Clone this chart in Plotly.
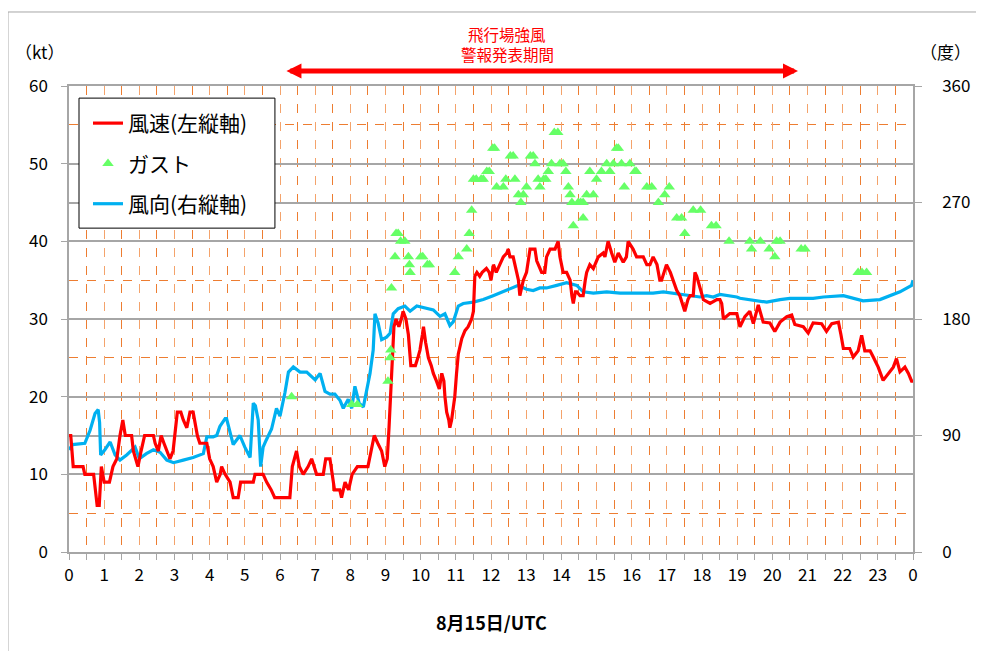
import plotly.graph_objects as go

# ---- data (hours UTC on 15 Aug) ----
spd_hours = [0.00, 0.05, 0.12, 0.40, 0.45, 0.70, 0.75, 0.80, 0.86, 0.92, 1.00, 1.15, 1.25, 1.36, 1.45, 1.53, 1.60, 1.78,
             1.83, 1.96, 2.05, 2.15, 2.40, 2.45, 2.54, 2.62, 2.70, 2.78, 2.87, 2.96, 3.02, 3.08, 3.18, 3.25, 3.35, 3.44,
             3.53, 3.60, 3.65, 3.72, 3.92, 4.00, 4.10, 4.20, 4.30, 4.34, 4.44, 4.58, 4.67, 4.81, 4.88, 5.24, 5.29, 5.52,
             5.62, 5.75, 5.85, 6.28, 6.35, 6.47, 6.55, 6.66, 6.80, 6.90, 6.97, 7.04, 7.23, 7.30, 7.42, 7.48, 7.55, 7.70,
             7.75, 7.85, 7.95, 8.05, 8.20, 8.50, 8.60, 8.68, 8.78, 8.89, 8.98, 9.05, 9.10, 9.17, 9.24, 9.30, 9.38, 9.45,
             9.50, 9.58, 9.65, 9.72, 9.85, 9.92, 9.98, 10.05, 10.08, 10.14, 10.22, 10.30, 10.36, 10.45, 10.53, 10.60,
             10.66, 10.69, 10.74, 10.80, 10.83, 10.88, 10.97, 11.02, 11.07, 11.17, 11.26, 11.35, 11.45, 11.50, 11.54,
             11.60, 11.68, 11.75, 11.87, 11.95, 12.00, 12.07, 12.15, 12.25, 12.35, 12.45, 12.49, 12.54, 12.63, 12.73,
             12.78, 12.82, 12.87, 12.92, 13.01, 13.06, 13.11, 13.25, 13.30, 13.44, 13.53, 13.58, 13.68, 13.82, 13.91,
             13.96, 14.05, 14.15, 14.25, 14.30, 14.34, 14.40, 14.44, 14.53, 14.62, 14.68, 14.72, 14.81, 14.91, 15.05,
             15.19, 15.24, 15.33, 15.43, 15.52, 15.62, 15.76, 15.85, 15.90, 16.04, 16.14, 16.33, 16.43, 16.52, 16.61,
             16.72, 16.80, 16.85, 16.99, 17.10, 17.18, 17.28, 17.37, 17.45, 17.51, 17.60, 17.66, 17.75, 17.80, 17.85,
             17.94, 18.04, 18.23, 18.42, 18.51, 18.56, 18.61, 18.79, 18.99, 19.08, 19.22, 19.36, 19.46, 19.60, 19.74,
             19.93, 20.07, 20.22, 20.41, 20.55, 20.64, 20.88, 21.02, 21.16, 21.40, 21.54, 21.69, 21.88, 21.95, 22.02,
             22.20, 22.30, 22.44, 22.54, 22.63, 22.78, 22.87, 23.01, 23.15, 23.30, 23.44, 23.53, 23.63, 23.77, 23.87,
             23.96, 24.00]
spd_kt = [15, 15, 11, 11, 10, 10, 8, 6, 6, 11, 9, 9, 11, 12, 15, 17, 15, 15,
          13, 11, 13, 15, 15, 14, 13, 15, 14, 13, 12, 13, 16, 18, 18, 17, 16, 18,
          18, 16, 15, 14, 14, 12, 11, 9, 10, 11, 10, 9, 7, 7, 9, 9, 10, 10,
          9, 8, 7, 7, 11, 13, 11, 10, 11, 12, 11, 10, 10, 12, 12, 10, 8, 8,
          7, 9, 8, 10, 11, 11, 13, 15, 14, 13, 11, 12, 16, 22, 29, 30, 29, 30,
          31, 30, 28, 24, 24, 25, 26, 28, 29, 27, 25, 24, 23, 22, 21, 23,
          22, 20, 18, 17, 16, 17, 20, 23, 25.5, 27.5, 28.5, 29, 30, 31, 35.5,
          36, 35.5, 36, 36.5, 36, 35, 37, 36, 37, 38, 38.5, 39, 38, 38, 36,
          35, 33, 34, 35, 36, 37.5, 39, 39, 37.5, 36, 36, 38, 39, 39, 40,
          38, 36, 36, 35, 33, 32, 33.5, 33.5, 33, 33, 35, 36, 37, 36.5, 38,
          38.5, 38, 40, 38.5, 37.3, 38.5, 37.3, 38, 40, 39, 38, 38, 37, 37, 38,
          37, 35, 35, 37, 36, 35, 33.7, 33, 32, 31, 32.5, 33, 33, 36, 35.5,
          34, 32.5, 32, 32.5, 32.5, 32, 30, 30.7, 30.7, 29, 30.3, 31, 29.4, 31.8, 29.6,
          29.5, 28.4, 29.6, 30.3, 30.5, 29.3, 29, 28.2, 29.5, 29.4, 28.4, 29.4, 29.6, 28, 26.2,
          26.2, 25.1, 25.9, 27.9, 25.9, 25.9, 25.1, 23.8, 22.1, 23, 23.8, 24.9, 23.2, 23.8, 23,
          22, 22]

dir_hours = [0.00, 0.10, 0.45, 0.60, 0.74, 0.83, 0.87, 0.90, 1.02, 1.17, 1.31, 1.45, 1.64, 1.88, 2.00, 2.20, 2.40,
             2.59, 2.78, 2.97, 3.25, 3.53, 3.82, 3.92, 4.10, 4.20, 4.29, 4.44, 4.48, 4.58, 4.67, 4.86, 5.00, 5.15,
             5.24, 5.30, 5.38, 5.45, 5.52, 5.60, 5.76, 5.90, 6.00, 6.14, 6.24, 6.38, 6.57, 6.76, 7.00, 7.14, 7.28,
             7.42, 7.56, 7.71, 7.80, 7.94, 8.04, 8.13, 8.25, 8.37, 8.46, 8.56, 8.65, 8.70, 8.79, 8.89, 9.03, 9.13,
             9.22, 9.36, 9.55, 9.70, 9.89, 10.17, 10.36, 10.55, 10.69, 10.83, 10.93, 11.07, 11.21, 11.50, 11.78,
             12.06, 12.35, 12.63, 12.78, 13.01, 13.20, 13.39, 13.58, 13.87, 14.15, 14.44, 14.62, 14.91, 15.29,
             15.67, 16.04, 16.61, 16.90, 17.18, 17.37, 17.94, 18.13, 18.32, 18.51, 18.99, 19.08, 19.74, 19.84,
             20.22, 20.50, 21.16, 21.45, 22.02, 22.58, 23.06, 23.25, 23.63, 23.96, 24.00]
dir_deg = [79, 83, 84, 94, 107, 110, 100, 75, 79, 85, 75, 71, 75, 81, 72, 76, 79,
           77, 71, 69, 71, 73, 76, 89, 89, 90, 97, 103, 103, 92, 83, 90, 81, 73,
           115, 113, 102, 66, 81, 86, 95, 111, 105, 123, 139, 143, 139, 139, 133, 138, 124,
           122, 122, 117, 111, 118, 111, 128, 115, 112, 125, 138, 156, 184, 177, 164, 166, 169,
           184, 188, 190, 186, 190, 188, 187, 182, 184, 175, 178, 190, 192, 193, 195,
           198, 201, 204, 206, 203, 202, 204, 204, 206, 208, 206, 201, 200, 201,
           200, 200, 200, 201, 200, 199, 197, 198, 197, 199, 197, 196, 193, 193,
           195, 196, 196, 197, 198, 194, 195, 197, 201, 206, 210]

gust_hours = [6.33, 8.04, 8.20, 9.07, 9.13, 9.15, 9.17, 9.27, 9.30, 9.36, 9.43, 9.55, 9.65, 9.68, 9.70, 10.00,
              10.06, 10.19, 10.25, 10.97, 11.07, 11.31, 11.38, 11.45, 11.50, 11.58, 11.72, 11.78, 11.88, 11.95,
              12.05, 12.10, 12.16, 12.35, 12.42, 12.55, 12.63, 12.68, 12.78, 12.85, 12.92, 13.01, 13.12, 13.20,
              13.25, 13.34, 13.39, 13.50, 13.56, 13.63, 13.72, 13.80, 13.90, 13.96, 14.05, 14.13, 14.20, 14.25,
              14.30, 14.34, 14.48, 14.55, 14.62, 14.62, 14.72, 14.81, 14.91, 15.00, 15.14, 15.29, 15.38, 15.48,
              15.57, 15.62, 15.71, 15.79, 15.95, 16.09, 16.13, 16.43, 16.57, 16.76, 16.94, 17.07, 17.28, 17.42,
              17.51, 17.75, 17.96, 18.27, 18.40, 18.77, 19.36, 19.41, 19.66, 19.91, 20.07, 20.12, 20.22, 20.82,
              20.93, 22.44, 22.55, 22.68]
gust_kt = [20, 19, 19, 22, 25, 26, 34, 38, 41, 41, 40, 40, 38, 37, 36, 38,
           38, 37, 37, 36, 38, 39, 41, 44, 48, 48, 48, 48, 49, 49,
           52, 52, 47, 47, 48, 51, 51, 48, 46, 45, 46, 47, 51, 51,
           50, 48, 47, 48, 48, 49, 50, 54, 54, 50, 50, 49, 47, 46,
           45, 42, 45, 45, 45, 43, 46, 49, 46, 48, 49, 50, 49, 50,
           52, 52, 50, 47, 50, 49, 49, 47, 47, 45, 46, 47, 43, 43,
           41, 44, 44, 42, 42, 40, 40, 39, 40, 39, 38, 40, 40, 39,
           39, 36, 36, 36]

warning_period = [6.14, 20.73]  # 飛行場強風警報発表期間 (hours)

FONT = "Noto Sans CJK JP"
GRAY = "#A6A6A6"
ORANGE = "#ED7D31"
ORANGE_L = "#F4A36B"

fig = go.Figure()
fig.add_trace(go.Scatter(x=dir_hours, y=dir_deg, yaxis="y", mode="lines", name="風向(右縦軸)",
                         line=dict(color="#00B0F0", width=3.2), legendrank=3, legendgroup="c"))
fig.add_trace(go.Scatter(x=spd_hours, y=spd_kt, yaxis="y2", mode="lines", name="風速(左縦軸)",
                         line=dict(color="#FF0000", width=3.2), legendrank=1, legendgroup="a"))
fig.add_trace(go.Scatter(x=gust_hours, y=gust_kt, yaxis="y2", mode="markers", name="ガスト",
                         marker=dict(symbol="triangle-up", size=10, color="#66FF66", line=dict(width=0)),
                         legendrank=2, legendgroup="b"))

# page body has an 8px offset, so the figure is 8px smaller and margins shifted
fig.update_layout(
    width=976, height=643,
    template="none",
    paper_bgcolor="white", plot_bgcolor="white",
    margin=dict(l=61, r=71, t=78, b=99, autoexpand=False),
    font=dict(family=FONT, size=17, color="black"),
    xaxis=dict(range=[0, 24], tickmode="linear", tick0=0, dtick=1, labelalias={"24": "0"},
               showgrid=True, gridcolor=ORANGE_L, griddash="dash", gridwidth=1,
               minor=dict(tickmode="linear", tick0=0, dtick=0.5, showgrid=True, gridcolor=ORANGE,
                          griddash="dash", gridwidth=1, ticks="outside", ticklen=6, tickcolor=GRAY),
               ticks="outside", ticklen=6, tickcolor=GRAY, tickwidth=1,
               showline=True, linecolor=GRAY, linewidth=1.5, mirror=True, zeroline=False,
               tickfont=dict(size=17), ticklabelstandoff=1),
    yaxis=dict(side="right", range=[0, 360], tickmode="linear", tick0=0, dtick=90,
               showgrid=True, gridcolor=GRAY, gridwidth=1.5, zeroline=False,
               showline=True, linecolor=GRAY, linewidth=1.5,
               ticks="outside", ticklen=7, tickcolor=GRAY, ticklabelstandoff=17,
               tickfont=dict(size=17)),
    yaxis2=dict(overlaying="y", side="left", range=[0, 60], tickmode="linear", tick0=0, dtick=10,
                showgrid=True, gridcolor=GRAY, gridwidth=1.5, zeroline=False,
                minor=dict(tickmode="linear", tick0=0, dtick=5, showgrid=True, gridcolor=ORANGE,
                           griddash="dash", gridwidth=1),
                showline=True, linecolor=GRAY, linewidth=1.5,
                ticks="outside", ticklen=6, tickcolor=GRAY, ticklabelstandoff=10,
                tickfont=dict(size=17)),
    showlegend=True,
    legend=dict(x=0.0225, y=0.9636, xanchor="left", yanchor="top", bgcolor="rgba(0,0,0,0)",
                borderwidth=0, font=dict(size=21, family=FONT),
                traceorder="grouped", tracegroupgap=10, itemwidth=30),
)

# legend frame (white box with black border)
fig.add_shape(type="rect", xref="paper", yref="paper", x0=0.01185, x1=0.244, y0=0.695, y1=0.974,
              line=dict(color="black", width=1), fillcolor="white", layer="above")

fig.add_annotation(text="（kt）", xref="paper", yref="paper", x=-0.0344, y=1.073, xanchor="center",
                   yanchor="middle", showarrow=False, font=dict(size=17))
fig.add_annotation(text="（度）", xref="paper", yref="paper", x=1.038, y=1.073, xanchor="center",
                   yanchor="middle", showarrow=False, font=dict(size=17))
fig.add_annotation(text="飛行場強風", xref="paper", yref="paper", x=0.519, y=1.1123,
                   xanchor="center", yanchor="middle", borderpad=0,
                   showarrow=False, font=dict(size=15.5, color="#FF0000"))
fig.add_annotation(text="警報発表期間", xref="paper", yref="paper", x=0.519, y=1.0694,
                   xanchor="center", yanchor="middle", borderpad=0,
                   showarrow=False, font=dict(size=15.5, color="#FF0000"))
fig.add_annotation(text="", xref="x", yref="paper", x=warning_period[1], y=1.032,
                   axref="x", ayref="pixel", ax=warning_period[0], ay=0,
                   showarrow=True, arrowside="end+start", arrowhead=2, arrowsize=0.6,
                   arrowwidth=5, arrowcolor="#FF0000")
fig.add_annotation(text="<b>8月15日/UTC</b>", xref="paper", yref="paper", x=0.5, y=-0.150,
                   xanchor="center", yanchor="middle", showarrow=False, font=dict(size=18))
fig.add_shape(type="rect", xref="paper", yref="paper", x0=-0.0723, y0=-0.5, x1=1.3, y1=1.1588,
              line=dict(color=GRAY, width=1), layer="below")

fig.write_html("out.html")
